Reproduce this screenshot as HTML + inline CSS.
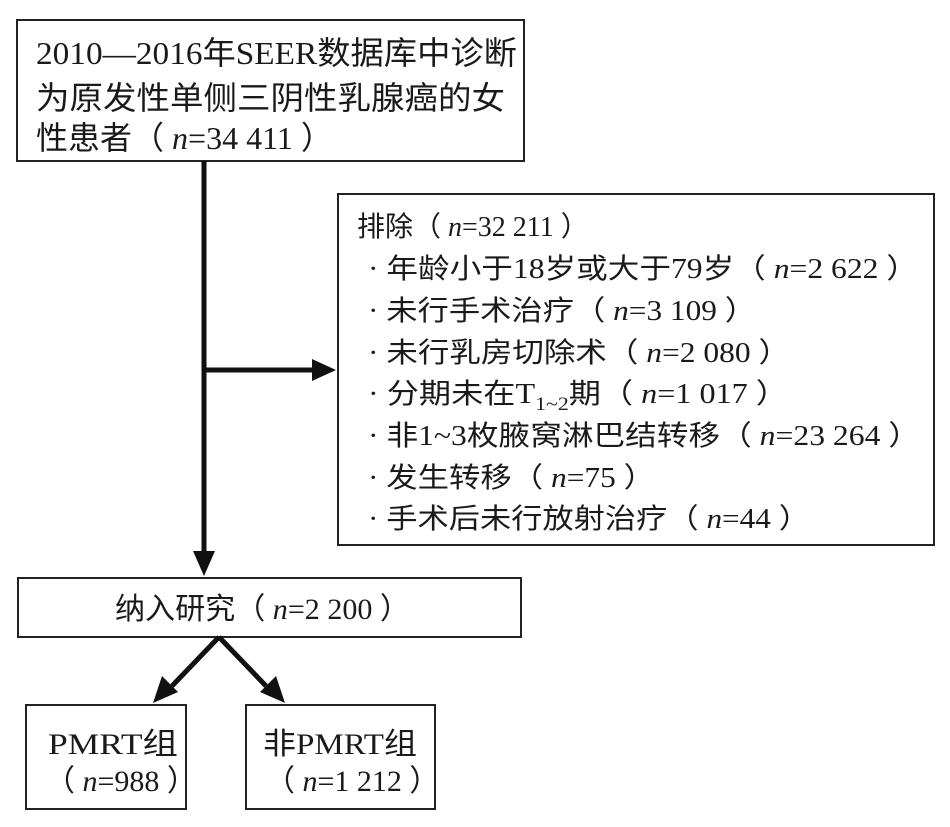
<!DOCTYPE html>
<html><head><meta charset="utf-8"><style>
html,body{margin:0;padding:0;background:#fff;}
svg{display:block;}
text{font-family:"Liberation Serif","Noto Sans CJK SC",serif;fill:#1a1a1a;}
</style></head><body>
<svg width="950" height="827" viewBox="0 0 950 827" xmlns="http://www.w3.org/2000/svg">
<g fill="none" stroke="#222" stroke-width="2">
<rect x="17" y="20" width="507" height="141"/>
<rect x="338" y="194" width="596" height="351"/>
<rect x="18" y="578" width="503" height="59"/>
<rect x="26" y="705" width="160" height="104"/>
<rect x="246" y="705" width="189" height="104"/>
</g>
<g stroke="#111" stroke-width="5" fill="#111">
<line x1="204" y1="161" x2="204" y2="553"/>
<polygon points="193,551 215,551 204,576" stroke="none"/>
<line x1="204" y1="370" x2="314" y2="370"/>
<polygon points="312,359 312,381 336,370" stroke="none"/>
<line x1="219" y1="637" x2="172" y2="686"/>
<polygon points="162,676 178,692 153,703" stroke="none"/>
<line x1="219" y1="637" x2="266" y2="686"/>
<polygon points="260,692 276,676 285,703" stroke="none"/>
</g>
<g font-size="32">
<text x="36" y="64" textLength="481" lengthAdjust="spacingAndGlyphs">2010—2016年SEER数据库中诊断</text>
<text x="36" y="109" textLength="469" lengthAdjust="spacingAndGlyphs">为原发性单侧三阴性乳腺癌的女</text>
<text x="36" y="149">性患者（ <tspan font-style="italic">n</tspan>=34 411 ）</text>
</g>
<g font-size="28">
<text x="357" y="236">排除（ <tspan font-style="italic">n</tspan>=32 211 ）</text>
<text x="368" y="278" textLength="550" lengthAdjust="spacingAndGlyphs">· 年龄小于18岁或大于79岁（ <tspan font-style="italic">n</tspan>=2 622 ）</text>
<text x="368" y="320" textLength="388" lengthAdjust="spacingAndGlyphs">· 未行手术治疗（ <tspan font-style="italic">n</tspan>=3 109 ）</text>
<text x="368" y="362" textLength="422" lengthAdjust="spacingAndGlyphs">· 未行乳房切除术（ <tspan font-style="italic">n</tspan>=2 080 ）</text>
<text x="368" y="403" textLength="420" lengthAdjust="spacingAndGlyphs">· 分期未在T<tspan font-size="19" dy="7">1~2</tspan><tspan dy="-7">期（ </tspan><tspan font-style="italic">n</tspan>=1 017 ）</text>
<text x="368" y="445" textLength="552" lengthAdjust="spacingAndGlyphs">· 非1~3枚腋窝淋巴结转移（ <tspan font-style="italic">n</tspan>=23 264 ）</text>
<text x="368" y="487" textLength="287" lengthAdjust="spacingAndGlyphs">· 发生转移（ <tspan font-style="italic">n</tspan>=75 ）</text>
<text x="368" y="528" textLength="442" lengthAdjust="spacingAndGlyphs">· 手术后未行放射治疗（ <tspan font-style="italic">n</tspan>=44 ）</text>
</g>
<g font-size="30">
<text x="115" y="619" textLength="295" lengthAdjust="spacingAndGlyphs">纳入研究（ <tspan font-style="italic">n</tspan>=2 200 ）</text>
<text x="48" y="754" textLength="130" lengthAdjust="spacingAndGlyphs">PMRT组</text>
<text x="45" y="791">（ <tspan font-style="italic">n</tspan>=988 ）</text>
<text x="263" y="754" textLength="154" lengthAdjust="spacingAndGlyphs">非PMRT组</text>
<text x="265" y="791">（ <tspan font-style="italic">n</tspan>=1 212 ）</text>
</g>
</svg>
</body></html>
